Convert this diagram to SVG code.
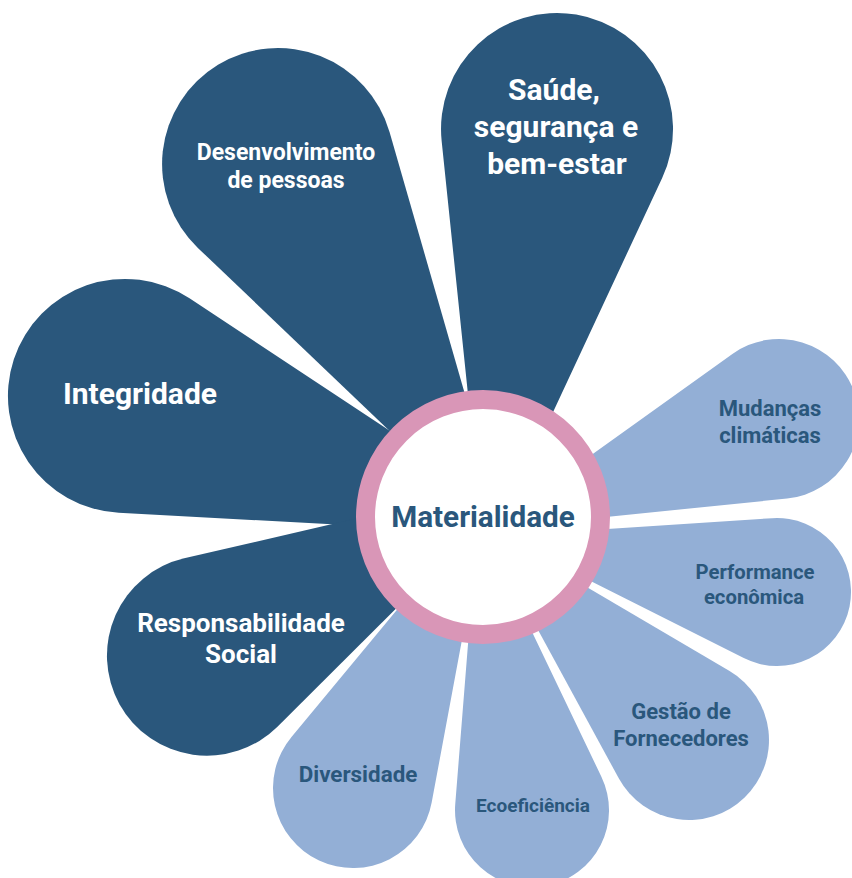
<svg xmlns="http://www.w3.org/2000/svg" width="852" height="878" viewBox="0 0 852 878">
<style>
.dark{fill:#2A577C}
.light{fill:#93AFD6}
.t{font-family:Roboto,"Liberation Sans",sans-serif;font-weight:700;text-anchor:middle}
.w{fill:#FFFFFF}
.b{fill:#2A577C}
</style>
<rect width="852" height="878" fill="#FFFFFF"/>
<g id="petal-desenvolvimento">
<path class="dark" transform="translate(508 544) rotate(-31.18)" d="M0 0 L112 -413.9 A116 116 0 1 0 -112 -413.9 Z"/>
<text class="t w" font-size="23" x="286" y="160">Desenvolvimento</text>
<text class="t w" font-size="23" x="286" y="188">de pessoas</text>
</g>
<g id="petal-saude">
<path class="dark" transform="translate(485 558) rotate(9.53)" d="M0 0 L111.8 -404.1 A116 116 0 1 0 -111.8 -404.1 Z"/>
<text class="t w" font-size="30" x="554" y="100">Saúde,</text>
<text class="t w" font-size="30" x="556" y="137">segurança e</text>
<text class="t w" font-size="30" x="557" y="174">bem-estar</text>
</g>
<g id="petal-integridade">
<path class="dark" transform="translate(549 536) rotate(-71.72)" d="M0 0 L112.9 -415.9 A117 117 0 1 0 -112.9 -415.9 Z"/>
<text class="t w" font-size="30" x="140" y="404">Integridade</text>
</g>
<g id="petal-responsabilidade">
<path class="dark" transform="translate(526 479) rotate(-118.98)" d="M0 0 L96.2 -337.4 A100 100 0 1 0 -96.2 -337.4 Z"/>
<text class="t w" font-size="26" x="241" y="632">Responsabilidade</text>
<text class="t w" font-size="26" x="241" y="663">Social</text>
</g>
<g id="petal-diversidade">
<path class="light" transform="translate(488 500) rotate(-154.89)" d="M0 0 L77.4 -297.9 A80 80 0 1 0 -77.4 -297.9 Z"/>
<text class="t b" font-size="22.4" x="358" y="782">Diversidade</text>
</g>
<g id="petal-ecoeficiencia">
<path class="light" transform="translate(478 519) rotate(169.49)" d="M0 0 L74.3 -275.9 A77 77 0 1 0 -74.3 -275.9 Z"/>
<text class="t b" font-size="19" x="533" y="812">Ecoeficiência</text>
</g>
<g id="petal-gestao">
<path class="light" transform="translate(481 525) rotate(135.95)" d="M0 0 L77.1 -277.8 A80 80 0 1 0 -77.1 -277.8 Z"/>
<text class="t b" font-size="22" x="681" y="719">Gestão de</text>
<text class="t b" font-size="22" x="681" y="746">Fornecedores</text>
</g>
<g id="petal-performance">
<path class="light" transform="translate(501 536) rotate(101.47)" d="M0 0 L71.4 -262.2 A74 74 0 1 0 -71.4 -262.2 Z"/>
<text class="t b" font-size="20.3" x="755" y="579">Performance</text>
<text class="t b" font-size="20.3" x="754" y="604">econômica</text>
</g>
<g id="petal-mudancas">
<path class="light" transform="translate(488 529) rotate(69.29)" d="M0 0 L77.3 -290.5 A80 80 0 1 0 -77.3 -290.5 Z"/>
<text class="t b" font-size="22" x="770" y="416">Mudanças</text>
<text class="t b" font-size="22" x="770" y="443">climáticas</text>
</g>
<g id="connectors"></g>
<g id="center-materialidade">
<circle cx="483" cy="517" r="117.5" fill="#FFFFFF" stroke="#D996B7" stroke-width="19"/>
<text class="t b" font-size="29.7" x="483" y="527">Materialidade</text>
</g>
</svg>
